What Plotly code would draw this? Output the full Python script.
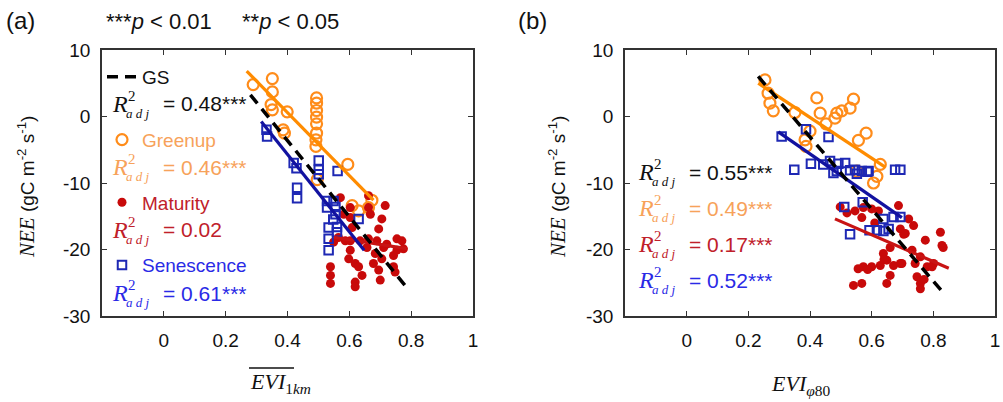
import plotly.graph_objects as go

# ---------------- data: panel (a) ----------------
a_green_x = [0.289, 0.351, 0.351, 0.347, 0.351, 0.399, 0.386, 0.390, 0.494, 0.494, 0.494, 0.494,
             0.494, 0.494, 0.492, 0.492, 0.496, 0.595, 0.609, 0.630, 0.662, 0.673]
a_green_y = [4.8, 5.7, 3.7, 1.8, 1.0, 0.7, -2.0, -2.5, 2.8, 2.0, 0.9, -0.1,
             -1.1, -2.5, -3.5, -4.5, -9.5, -7.2, -13.4, -14.2, -13.7, -12.6]

a_sen_x = [0.332, 0.334, 0.420, 0.429, 0.431, 0.431, 0.501, 0.501, 0.501, 0.562, 0.528,
           0.549, 0.528, 0.555, 0.555, 0.630, 0.533, 0.560, 0.560, 0.533, 0.533, 0.548]
a_sen_y = [-2.0, -3.0, -7.0, -7.8, -10.7, -12.3, -6.6, -8.0, -8.7, -8.2, -12.7,
           -12.7, -13.7, -13.6, -14.7, -15.4, -16.7, -16.6, -17.4, -18.4, -20.1, -15.5]

a_mat_x = [0.571, 0.603, 0.662, 0.716, 0.662, 0.668, 0.705, 0.695, 0.603, 0.609, 0.565,
           0.587, 0.603, 0.635, 0.662, 0.689, 0.721, 0.754, 0.770, 0.775, 0.754, 0.743,
           0.705, 0.684, 0.678, 0.695, 0.700, 0.743, 0.748, 0.603, 0.598, 0.619, 0.630,
           0.641, 0.619, 0.619, 0.539, 0.539, 0.539, 0.549, 0.657, 0.711, 0.582]
a_mat_y = [-12.2, -13.7, -11.9, -13.4, -13.7, -14.7, -15.4, -16.9, -15.2, -16.7, -18.2,
           -18.7, -18.7, -18.7, -18.4, -18.7, -19.2, -18.4, -18.7, -19.9, -20.1, -20.9,
           -21.4, -20.6, -22.1, -23.1, -24.6, -22.6, -23.4, -20.1, -21.4, -22.1, -22.6,
           -23.9, -24.9, -25.6, -22.6, -23.9, -25.1, -18.9, -19.7, -19.7, -14.7]

# fit lines (a): x range, slope, intercept
a_fit = {
    "GS":         dict(x=[0.280, 0.791], slope=-57.3, icpt=19.3),
    "Greenup":    dict(x=[0.268, 0.678], slope=-47.3, icpt=19.5),
    "Maturity":   dict(x=[0.550, 0.786], slope=-7.2, icpt=-14.2),
    "Senescence": dict(x=[0.315, 0.648], slope=-58.1, icpt=17.55),
}
a_r2 = {"GS": "0.48", "Greenup": "0.46", "Maturity": "0.02", "Senescence": "0.61"}
a_sig = {"GS": "***", "Greenup": "***", "Maturity": "", "Senescence": "***"}

# ---------------- data: panel (b) ----------------
b_green_x = [0.254, 0.264, 0.270, 0.281, 0.351, 0.422, 0.433, 0.400, 0.384, 0.387, 0.452,
             0.481, 0.487, 0.503, 0.530, 0.541, 0.557, 0.582, 0.628, 0.617, 0.606, 0.552]
b_green_y = [5.5, 3.5, 2.0, 0.85, 0.6, 2.8, 0.5, -2.2, -3.5, -4.5, -1.1,
             -0.25, 0.5, 0.85, 1.25, 2.6, -3.6, -2.5, -7.2, -9.0, -10.0, -8.2]

b_sen_x = [0.308, 0.387, 0.460, 0.349, 0.403, 0.443, 0.465, 0.492, 0.514, 0.487, 0.530,
           0.546, 0.568, 0.590, 0.676, 0.693, 0.476, 0.552, 0.586, 0.511, 0.571, 0.530,
           0.593, 0.617, 0.638, 0.655, 0.638, 0.671, 0.693]
b_sen_y = [-3.0, -1.9, -3.1, -8.0, -7.1, -7.2, -6.7, -7.1, -7.0, -8.2, -8.1,
           -8.0, -8.2, -8.2, -8.0, -8.0, -8.5, -8.6, -8.3, -13.6, -12.9, -17.7,
           -17.1, -17.1, -17.2, -16.9, -15.4, -15.1, -15.1]

b_mat_x = [0.498, 0.546, 0.568, 0.573, 0.600, 0.622, 0.687, 0.720, 0.736, 0.704, 0.774,
           0.823, 0.832, 0.638, 0.649, 0.573, 0.600, 0.628, 0.671, 0.693, 0.660, 0.649,
           0.568, 0.741, 0.758, 0.780, 0.801, 0.747, 0.758, 0.758, 0.693, 0.731, 0.660,
           0.541, 0.556, 0.587, 0.698, 0.796, 0.709, 0.828, 0.640, 0.520, 0.610, 0.770]
b_mat_y = [-13.6, -14.2, -15.2, -13.7, -13.9, -14.2, -13.4, -15.4, -16.4, -17.7, -18.6,
           -17.4, -19.7, -20.6, -21.6, -22.6, -22.6, -22.4, -22.4, -22.1, -23.9, -25.1,
           -25.1, -22.1, -21.1, -22.6, -22.1, -24.1, -25.1, -25.9, -16.9, -20.1, -19.7,
           -25.4, -22.9, -23.0, -22.1, -22.6, -17.6, -19.4, -21.5, -14.5, -16.0, -24.5]

b_fit = {
    "GS":         dict(x=[0.232, 0.834], slope=-54.2, icpt=18.6),
    "Greenup":    dict(x=[0.232, 0.644], slope=-30.6, icpt=12.1),
    "Maturity":   dict(x=[0.481, 0.850], slope=-20.1, icpt=-5.73),
    "Senescence": dict(x=[0.297, 0.698], slope=-32.2, icpt=7.26),
}
b_r2 = {"GS": "0.55", "Greenup": "0.49", "Maturity": "0.17", "Senescence": "0.52"}
b_sig = {"GS": "***", "Greenup": "***", "Maturity": "***", "Senescence": "***"}

x_ticks = [0, 0.2, 0.4, 0.6, 0.8, 1]
x_ticklabels = ["0", "0.2", "0.4", "0.6", "0.8", "1"]
y_ticks = [-30, -20, -10, 0, 10]
y_ticklabels = ["-30", "-20", "-10", "0", "10"]

# ---------------- styles ----------------
ORANGE_M = "#FF8C1A"
ORANGE_L = "#FF8C00"
ORANGE_T = "#F7A25A"
RED_M = "#C80A0A"
RED_L = "#C81414"
RED_T = "#C0202A"
BLUE_M = "#1E28B4"
BLUE_L = "#1212A0"
BLUE_T = "#2A2AE6"
BLACK = "#111111"

W, H = 1003, 402
SANS = "Liberation Sans, Arial, sans-serif"
SERIF = "Liberation Serif, DejaVu Serif, serif"

fig = go.Figure()


def px2x(p):
    return p / W


def px2y(p):
    return 1 - p / H


def fit_y(f):
    return [f["icpt"] + f["slope"] * xv for xv in f["x"]]


def add_panel(xa, ya, green, mat, sen, fit, legend):
    gx, gy = green
    mx, my = mat
    sx, sy = sen
    fig.add_trace(go.Scatter(
        x=gx, y=gy, mode="markers", xaxis=xa, yaxis=ya,
        name="<span style='color:%s'>Greenup</span>" % ORANGE_T,
        showlegend=legend, legendgroup="g2", legendrank=2,
        marker=dict(symbol="circle-open", size=11, color=ORANGE_M, line=dict(width=2.2, color=ORANGE_M))))
    fig.add_trace(go.Scatter(
        x=mx, y=my, mode="markers", xaxis=xa, yaxis=ya,
        name="<span style='color:%s'>Maturity</span>" % RED_T,
        showlegend=legend, legendgroup="g3", legendrank=3,
        marker=dict(symbol="circle", size=9, color=RED_M)))
    fig.add_trace(go.Scatter(
        x=sx, y=sy, mode="markers", xaxis=xa, yaxis=ya,
        name="<span style='color:%s'>Senescence</span>" % BLUE_T,
        showlegend=legend, legendgroup="g4", legendrank=4,
        marker=dict(symbol="square-open", size=8.5, color=BLUE_M, line=dict(width=2, color=BLUE_M))))
    for key, col in [("Maturity", RED_L), ("Greenup", ORANGE_L), ("Senescence", BLUE_L)]:
        f = fit[key]
        fig.add_trace(go.Scatter(x=f["x"], y=fit_y(f), mode="lines", xaxis=xa, yaxis=ya,
                                 showlegend=False, line=dict(color=col, width=3.2)))
    f = fit["GS"]
    fig.add_trace(go.Scatter(x=f["x"], y=fit_y(f), mode="lines", xaxis=xa, yaxis=ya,
                             name="GS", showlegend=legend, legendgroup="g1", legendrank=1,
                             line=dict(color="black", width=3.5, dash="11px,7px")))


add_panel("x", "y", (a_green_x, a_green_y), (a_mat_x, a_mat_y), (a_sen_x, a_sen_y), a_fit, True)
add_panel("x2", "y2", (b_green_x, b_green_y), (b_mat_x, b_mat_y), (b_sen_x, b_sen_y), b_fit, False)

annotations = []


def ann(text, xp, yp, size, color=BLACK, family=SANS, xanchor="left", yanchor="middle", angle=0):
    annotations.append(dict(text=text, x=px2x(xp), y=px2y(yp), xref="paper", yref="paper",
                            showarrow=False, xanchor=xanchor, yanchor=yanchor, textangle=angle,
                            font=dict(size=size, color=color, family=family)))


def r2(xp, yp, value, sig, color):
    ann("<i>R</i>", xp, yp, 24, color, SERIF)
    ann("2", xp + 16, yp - 8, 15, color, SERIF)
    ann("<i>a d j</i>", xp + 14, yp + 9, 13, color, SERIF)
    ann("= %s%s" % (value, sig), xp + 51, yp, 21, color, SANS)


r2(110, 104, a_r2["GS"], a_sig["GS"], BLACK)
r2(110, 167, a_r2["Greenup"], a_sig["Greenup"], ORANGE_T)
r2(110, 230, a_r2["Maturity"], a_sig["Maturity"], RED_T)
r2(110, 293, a_r2["Senescence"], a_sig["Senescence"], BLUE_T)

r2(636, 172, b_r2["GS"], b_sig["GS"], BLACK)
r2(636, 208, b_r2["Greenup"], b_sig["Greenup"], ORANGE_T)
r2(636, 244, b_r2["Maturity"], b_sig["Maturity"], RED_T)
r2(636, 280, b_r2["Senescence"], b_sig["Senescence"], BLUE_T)

ann("(a)", 4, 20, 24)
ann("(b)", 516, 20, 24)
ann("***<i>p</i> &lt; 0.01", 104, 22, 22)
ann("**<i>p</i> &lt; 0.05", 240, 22, 22)

ylab = ("<span style='font-family:Liberation Serif;font-size:21px'><i>NEE</i></span>"
        " (gC m<sup>-2</sup> s<sup>-1</sup>)")
ann(ylab, 26, 187, 19, angle=-90, xanchor="center")
ann(ylab, 557, 187, 19, angle=-90, xanchor="center")
ann("<i>EVI</i><sub>1<i>km</i></sub>", 248, 383, 22, family=SERIF)
ann("<i>EVI</i><sub><i>φ</i>80</sub>", 769, 385, 22, family=SERIF)

shapes = [dict(type="line", xref="paper", yref="paper", x0=px2x(249), x1=px2x(294),
               y0=px2y(368), y1=px2y(368), line=dict(color=BLACK, width=1.3))]

axis_common = dict(ticks="inside", ticklen=5, tickwidth=1.2, tickcolor="#333",
                   showline=True, linecolor="#333", linewidth=1.5, mirror="ticks",
                   showgrid=False, zeroline=False, automargin=False,
                   tickfont=dict(family=SANS, size=19, color=BLACK))

xdom_a = [px2x(102), px2x(473)]
xdom_b = [px2x(625), px2x(995)]
ydom = [px2y(316), px2y(50)]

fig.update_layout(
    width=W, height=H, margin=dict(l=0, r=0, t=0, b=0, pad=0, autoexpand=False),
    plot_bgcolor="white", paper_bgcolor="white",
    xaxis=dict(domain=xdom_a, range=[-0.2, 1], tickvals=x_ticks, ticktext=x_ticklabels,
               anchor="y", ticklabelstandoff=6, **axis_common),
    yaxis=dict(domain=ydom, range=[-30, 10], tickvals=y_ticks, ticktext=y_ticklabels,
               anchor="x", ticklabelstandoff=6, **axis_common),
    xaxis2=dict(domain=xdom_b, range=[-0.2, 1], tickvals=x_ticks, ticktext=x_ticklabels,
                anchor="y2", ticklabelstandoff=6, **axis_common),
    yaxis2=dict(domain=ydom, range=[-30, 10], tickvals=y_ticks, ticktext=y_ticklabels,
                anchor="x2", ticklabelstandoff=6, **axis_common),
    showlegend=True,
    legend=dict(x=px2x(102), y=px2y(58), xanchor="left", yanchor="top",
                bgcolor="rgba(0,0,0,0)", borderwidth=0, traceorder="grouped",
                tracegroupgap=35, itemwidth=30,
                font=dict(family=SANS, size=19, color=BLACK)),
    annotations=annotations, shapes=shapes,
)

fig.write_html("out.html", config={"displayModeBar": False},
               post_script="document.body.style.margin='0px';")
